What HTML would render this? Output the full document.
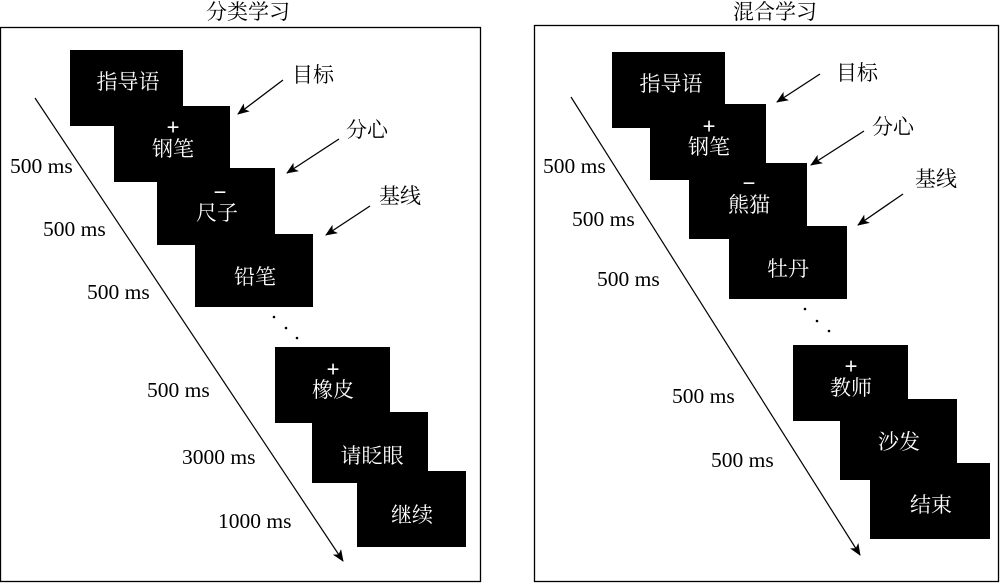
<!DOCTYPE html>
<html><head><meta charset="utf-8"><style>
html,body{margin:0;padding:0;background:#fff;}
svg{display:block;}
.s{font-family:"Liberation Serif","Noto Serif CJK SC",serif;font-size:21.5px;fill:#000;}
.c{font-family:"Liberation Serif","Noto Serif CJK SC",serif;font-size:21px;fill:#000;}
.w{font-family:"Liberation Serif","Noto Serif CJK SC",serif;font-size:21px;fill:#fff;text-anchor:middle;dominant-baseline:central;}
.p{font-family:"Liberation Sans",sans-serif;font-size:22px;fill:#fff;text-anchor:middle;dominant-baseline:central;}
</style></head><body>
<svg width="1000" height="583" viewBox="0 0 1000 583" xmlns="http://www.w3.org/2000/svg">
<defs>
<marker id="ah" viewBox="0 0 12 10" refX="11" refY="5" markerWidth="12" markerHeight="10" markerUnits="userSpaceOnUse" orient="auto">
<path d="M0,0 L12,5 L0,10 L3,5 Z" fill="#000"/>
</marker>
</defs>
<!-- LEFT -->
<text x="248" y="12" class="c" text-anchor="middle" dominant-baseline="central">分类学习</text>
<rect x="0.5" y="27.5" width="480" height="554" fill="none" stroke="#000" stroke-width="1.3"/>
<g fill="#000">
<rect x="70" y="50" width="113" height="76"/>
<rect x="114" y="106" width="116" height="76"/>
<rect x="157" y="168" width="118" height="77"/>
<rect x="195" y="234" width="118" height="73"/>
<rect x="275" y="347" width="115" height="76"/>
<rect x="312" y="412" width="116" height="71"/>
<rect x="357" y="471" width="109" height="76"/>
<circle cx="274" cy="317" r="1.3"/><circle cx="286" cy="328" r="1.3"/><circle cx="297" cy="338" r="1.3"/>
</g>
<text x="128" y="82" class="w">指导语</text>
<text x="173" y="127" class="p">+</text><text x="173" y="149" class="w">钢笔</text>
<text x="220" y="192" class="p">−</text><text x="217" y="213" class="w">尺子</text>
<text x="255" y="277" class="w">铅笔</text>
<text x="333" y="369" class="p">+</text><text x="333" y="390" class="w">橡皮</text>
<text x="372" y="456" class="w">请眨眼</text>
<text x="412" y="515" class="w">继续</text>
<line x1="35" y1="98" x2="343" y2="561" stroke="#000" stroke-width="1.2" marker-end="url(#ah)"/>
<g class="s" dominant-baseline="central">
<text x="10" y="166">500 ms</text>
<text x="43" y="229">500 ms</text>
<text x="87" y="292">500 ms</text>
<text x="147" y="390">500 ms</text>
<text x="182" y="457">3000 ms</text>
<text x="218" y="521">1000 ms</text>
</g>
<g class="c" dominant-baseline="central">
<text x="292" y="75">目标</text>
<text x="346" y="130">分心</text>
<text x="379" y="196">基线</text>
</g>
<g stroke="#000" stroke-width="1.3" marker-end="url(#ah)">
<line x1="283" y1="80" x2="238" y2="114"/>
<line x1="339" y1="139" x2="287" y2="173"/>
<line x1="370" y1="206" x2="326" y2="235"/>
</g>
<!-- RIGHT -->
<text x="775" y="12" class="c" text-anchor="middle" dominant-baseline="central">混合学习</text>
<rect x="534.5" y="25.5" width="464" height="556" fill="none" stroke="#000" stroke-width="1.3"/>
<g fill="#000">
<rect x="612" y="52" width="113" height="76"/>
<rect x="650" y="104" width="116" height="76"/>
<rect x="689" y="163" width="118" height="76"/>
<rect x="729" y="226" width="118" height="73"/>
<rect x="793" y="345" width="115" height="76"/>
<rect x="840" y="399" width="117" height="81"/>
<rect x="870" y="463" width="120" height="76"/>
<circle cx="805" cy="309" r="1.3"/><circle cx="817" cy="321" r="1.3"/><circle cx="829" cy="331" r="1.3"/>
</g>
<text x="671" y="84" class="w">指导语</text>
<text x="709" y="126" class="p">+</text><text x="709" y="147" class="w">钢笔</text>
<text x="749" y="183" class="p">−</text><text x="749" y="205" class="w">熊猫</text>
<text x="788" y="269" class="w">牡丹</text>
<text x="851" y="366" class="p">+</text><text x="851" y="388" class="w">教师</text>
<text x="899" y="442" class="w">沙发</text>
<text x="931" y="505" class="w">结束</text>
<line x1="571" y1="97" x2="860" y2="555" stroke="#000" stroke-width="1.2" marker-end="url(#ah)"/>
<g class="s" dominant-baseline="central">
<text x="543" y="166">500 ms</text>
<text x="572" y="219">500 ms</text>
<text x="597" y="279">500 ms</text>
<text x="672" y="396">500 ms</text>
<text x="711" y="460">500 ms</text>
</g>
<g class="c" dominant-baseline="central">
<text x="836" y="73">目标</text>
<text x="872" y="127">分心</text>
<text x="915" y="179">基线</text>
</g>
<g stroke="#000" stroke-width="1.3" marker-end="url(#ah)">
<line x1="820" y1="74" x2="777" y2="102"/>
<line x1="864" y1="131" x2="811" y2="165"/>
<line x1="903" y1="194" x2="858" y2="225"/>
</g>
</svg>
</body></html>
